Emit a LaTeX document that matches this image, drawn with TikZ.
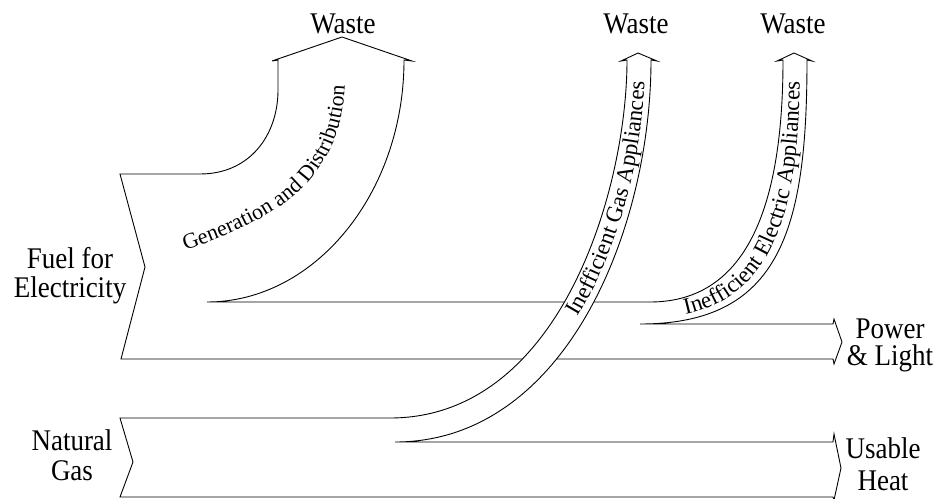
\documentclass[tikz,border=0pt]{standalone}
\usepackage{fontspec}
\setmainfont{Liberation Serif}
\newfontfamily\condfont{Liberation Serif}[FakeStretch=0.9]
\usetikzlibrary{decorations.text}
\newcommand\lblfont{\condfont\fontsize{30}{30}\selectfont}
\newcommand\genfont{\fontsize{22}{22}\selectfont}
\newcommand\appfont{\fontsize{23}{23}\selectfont}
\begin{document}
\begin{tikzpicture}[x=1pt,y=-1pt,
  band/.style={draw=black, line width=0.9pt, fill=white, line join=miter},
  lbl/.style={font=\lblfont, inner sep=0pt, align=center}]
\useasboundingbox[fill=white] (0,0) rectangle (942,498);

% Fuel for electricity band with its two waste branches
\draw[band] (120,174) -- (200,174)
  .. controls (250,174) and (278,135) .. (278,90) -- (278,60)
  -- (272,61) -- (342,37) -- (412,61) -- (404,60)
  .. controls (404,193) and (315,302) .. (207,302)
  -- (650,302) .. controls (750,302) and (783,200) .. (783,60)
  -- (777,61) -- (794,53) -- (812,61) -- (807,60)
  .. controls (807,230) and (780,324) .. (640,324)
  -- (833,324) -- (834,319) -- (842,342) -- (834,364) -- (833,359)
  -- (121,359) -- (145,267) -- cycle;

% Natural gas band with its waste branch
\draw[band] (120,418) -- (390,418)
  .. controls (560,418) and (627,190) .. (627,60)
  -- (621,61) -- (638,53) -- (657,61) -- (651,60)
  .. controls (651,230) and (565,442) .. (395,442)
  -- (833,442) -- (834,434) -- (841,468) -- (834,500) -- (833,497)
  -- (120,497) -- (133,462) -- cycle;

% texts along the flows
\path[decorate, decoration={text along path,
  text={|\genfont|Generation and Distribution}, text align=center}]
  (176,254) .. controls (265,222) and (345,190) .. (345,76);
\path[decorate, decoration={text along path,
  text={|\appfont|Inefficient Gas Appliances}, text align={right, right indent=22pt}}]
  (394,437) .. controls (558,437) and (645,228) .. (645,60);
\path[decorate, decoration={text along path,
  text={|\appfont|Inefficient Electric Appliances}, text align={right, right indent=22pt}}]
  (641,319) .. controls (773,319) and (800,222) .. (800,60);

% labels
\node[lbl, anchor=base] (w1) at (343,33) {Waste};
\node[lbl, anchor=base] (w2) at (636,33) {Waste};
\node[lbl, anchor=base] (w3) at (793,33) {Waste};
\node[lbl, anchor=base] (fuel) at (70,297) {Fuel for\\[-1pt]Electricity};
\node[lbl, anchor=base] (gas) at (72,480) {Natural\\Gas};
\node[lbl, anchor=base] (power) at (890,365) {Power\\[-3pt]\& Light};
\node[lbl, anchor=base] (heat) at (883,490) {Usable\\[2pt]Heat};
\end{tikzpicture}
\end{document}
